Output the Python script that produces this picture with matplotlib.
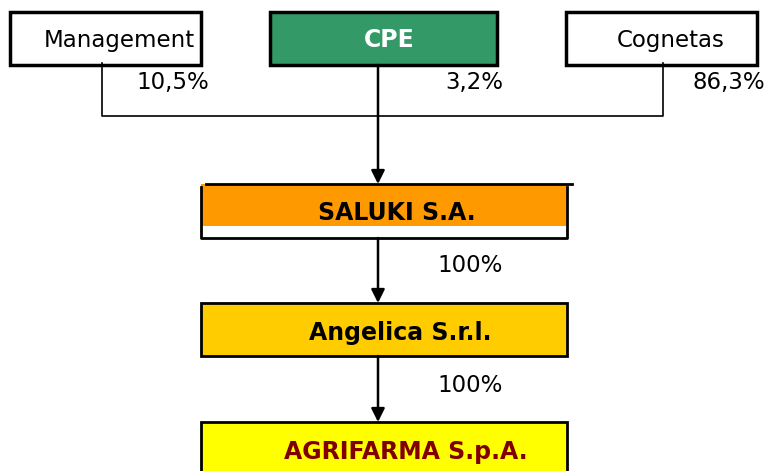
import matplotlib.pyplot as plt
from matplotlib.patches import Rectangle

# shareholders on top row
holders = ['Management', 'CPE', 'Cognetas']
holder_shares = ['10,5%', '3,2%', '86,3%']
# chain of companies below
companies = ['SALUKI S.A.', 'Angelica S.r.l.', 'AGRIFARMA S.p.A.']
chain_shares = ['100%', '100%']

fig = plt.figure(figsize=(7.65, 4.71), dpi=100)
ax = fig.add_axes([0, 0, 1, 1])
ax.set_xlim(0, 765)
ax.set_ylim(471, 0)
ax.axis('off')

arrow = dict(arrowstyle='-|>', color='black', lw=1.8, mutation_scale=20,
             shrinkA=0, shrinkB=0)

# top boxes
top_boxes = [(10, 201, 'white', 'black', 'normal', 195, 'right'),
             (270, 497, '#339966', 'white', 'bold', 389, 'center'),
             (566, 757, 'white', 'black', 'normal', 671, 'center')]
for name, (x0, x1, fc, tc, fw, tx, ha) in zip(holders, top_boxes):
    ax.add_patch(Rectangle((x0, 12), x1 - x0, 53, facecolor=fc,
                           edgecolor='black', lw=2.5))
    ax.text(tx, 40, name, color=tc, fontsize=16.5 if fw == 'normal' else 17,
            fontweight=fw, ha=ha, va='center')

# percentages under top boxes
for share, px in zip(holder_shares, [209, 503, 765]):
    ax.text(px, 82, share, fontsize=16.5, ha='right', va='center')

# connector lines
ax.plot([102, 102, 663, 663], [63, 116, 116, 63], color='black', lw=1.2)
ax.annotate('', xy=(378, 184), xytext=(378, 65), arrowprops=arrow)

# SALUKI box: orange band with white strip below
ax.add_patch(Rectangle((201, 184), 366, 42, facecolor='#FF9900', edgecolor='none'))
ax.plot([206, 572], [184, 184], color='black', lw=2)
ax.plot([201, 201, 567, 567], [187, 238, 238, 187], color='black', lw=2)
ax.text(397, 213, companies[0], fontsize=17, fontweight='bold',
        ha='center', va='center')

# Angelica
ax.add_patch(Rectangle((201, 303), 366, 53, facecolor='#FFCC00',
                       edgecolor='black', lw=2))
ax.text(400, 333, companies[1], fontsize=17, fontweight='bold',
        ha='center', va='center')

# AGRIFARMA
ax.add_patch(Rectangle((201, 422), 366, 60, facecolor='#FFFF00',
                       edgecolor='black', lw=2))
ax.text(406, 452, companies[2], fontsize=17, fontweight='bold',
        color='#800000', ha='center', va='center')

# arrows between companies
for y0, y1, share, ty in [(238, 303, chain_shares[0], 265),
                          (356, 422, chain_shares[1], 385)]:
    ax.annotate('', xy=(378, y1), xytext=(378, y0), arrowprops=arrow)
    ax.text(470, ty, share, fontsize=16.5, ha='center', va='center')

fig.savefig('out.png', dpi=100)
